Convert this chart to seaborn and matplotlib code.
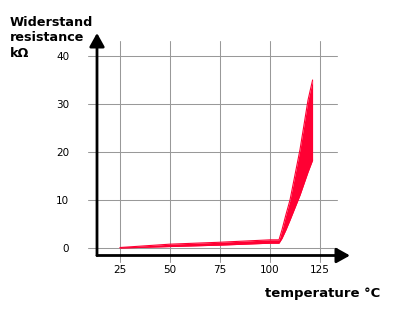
import numpy as np
import pandas as pd
import matplotlib
matplotlib.use("Agg")
import matplotlib.pyplot as plt
import seaborn as sns

# Data
temperature = [25, 50, 75, 100, 104.5, 106, 108, 110, 115, 119, 121.3]
resistance_low = [0.0, 0.3, 0.6, 1.0, 1.0, 2.0, 3.8, 5.8, 11.0, 15.8, 18.3]
resistance_high = [0.1, 0.8, 1.2, 1.7, 1.7, 3.8, 7.0, 10.0, 20.5, 30.8, 35.0]
x_ticks = [25, 50, 75, 100, 125]
y_ticks = [0, 10, 20, 30, 40]
title_lines = ["Widerstand", "resistance", "k\u03a9"]
x_label = "temperature \u00b0C"

df = pd.DataFrame({"temp": temperature, "low": resistance_low, "high": resistance_high})

sns.set_style("white")
plt.rcParams["font.family"] = ["DejaVu Sans"]
plt.rcParams["text.color"] = "black"

W, H = 399, 319
fig = plt.figure(figsize=(W / 100, H / 100), dpi=100)
# axes box: left px 97, right px 350, bottom px 255.5, top px 33
ax = fig.add_axes([97 / W, (H - 255.5) / H, (350 - 97) / W, (255.5 - 33) / H])
ax.set_xlim(13.5, 140)
ax.set_ylim(-1.5625, 44.79)
for s in ax.spines.values():
    s.set_visible(False)

grid_kw = dict(color="#999999", lw=0.75, clip_on=False, zorder=1)
for t in x_ticks:
    ax.plot([t, t], [-2.9, 43.1], **grid_kw)
for v in y_ticks:
    ax.plot([9, 133.5], [v, v], **grid_kw)

red = "#ff0033"
ax.fill_between(df["temp"], df["low"], df["high"], color=red, lw=0, zorder=2)
sns.lineplot(data=df, x="temp", y="low", color=red, lw=0.8, ax=ax, zorder=2)
sns.lineplot(data=df, x="temp", y="high", color=red, lw=0.8, ax=ax, zorder=2)
ax.set_xlabel("")
ax.set_ylabel("")

# axis arrows
arrow = dict(arrowstyle="-|>,head_length=0.9,head_width=0.5", lw=2, color="black",
             shrinkA=0, shrinkB=0, mutation_scale=9)
ax.annotate("", xy=(1, 0), xytext=(0, 0), xycoords="axes fraction",
            textcoords="axes fraction", arrowprops=arrow, zorder=5)
ax.annotate("", xy=(0, 1), xytext=(0, 0), xycoords="axes fraction",
            textcoords="axes fraction", arrowprops=arrow, zorder=5)

ax.set_xticks(x_ticks)
ax.set_yticks(y_ticks)
ax.tick_params(axis="both", length=0, labelsize=7.5, colors="black")
ax.tick_params(axis="x", pad=7)
ax.tick_params(axis="y", pad=20)

for i, line in enumerate(title_lines):
    fig.text(10 / W, 1 - (26 + 15.3 * i) / H, line, fontsize=9.2, fontweight="bold",
             ha="left", va="baseline")
fig.text(265 / W, 1 - 296.7 / H, x_label, fontsize=9.5, fontweight="bold",
         ha="left", va="baseline")

fig.savefig("out.png", dpi=100)
